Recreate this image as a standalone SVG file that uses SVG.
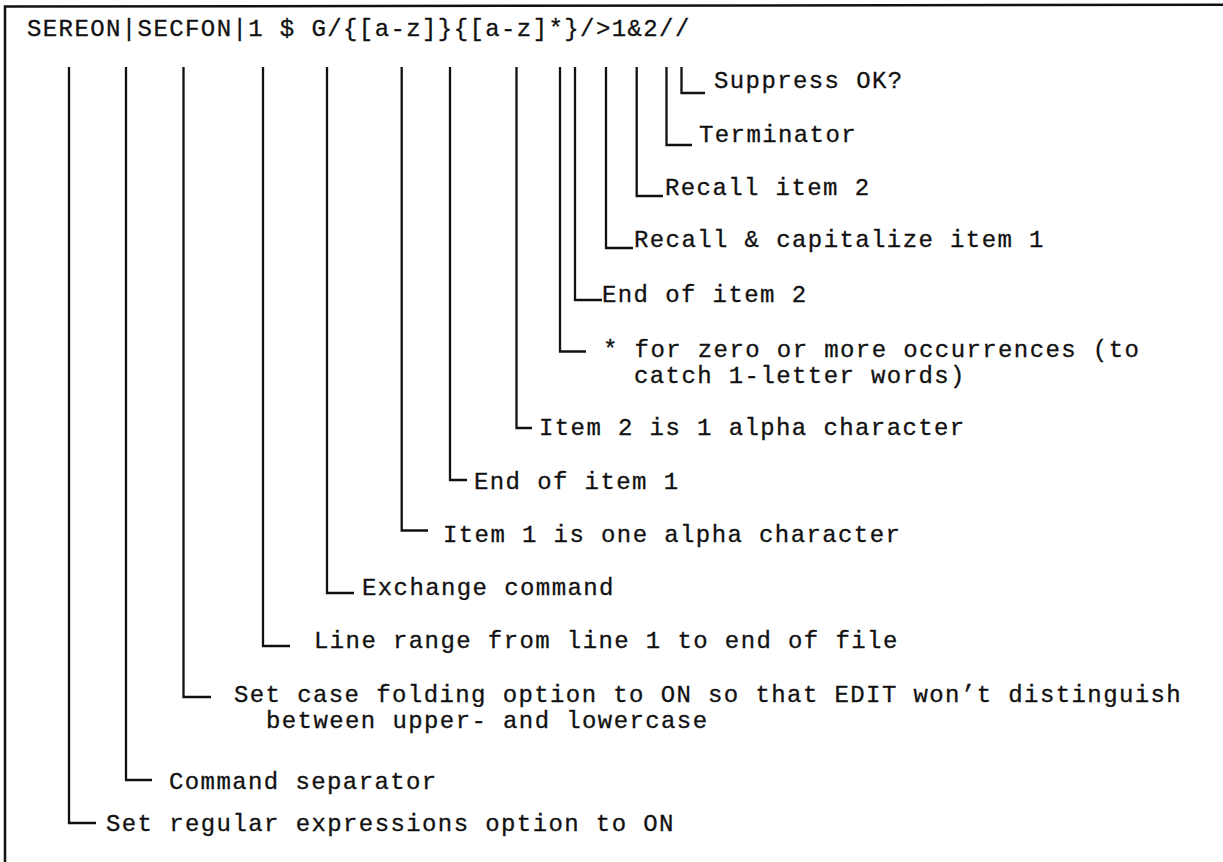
<svg xmlns="http://www.w3.org/2000/svg" width="1223" height="862" viewBox="0 0 1223 862">
<style>
.t{font-family:"Liberation Mono","Courier New",monospace;font-size:24px;letter-spacing:1.4px;fill:#111;stroke:#111;stroke-width:0.3}
.c{fill:none;stroke:#111;stroke-width:2.3;stroke-linejoin:miter;stroke-linecap:butt}
.b{fill:none;stroke:#111;stroke-width:2.5}
</style>
<rect width="1223" height="862" fill="#fff"/>
<g id="frame">
<path class="b" d="M5 862V6.5L1223 4.8"/>
</g>
<g id="command">
<text class="t" x="27" y="36">SEREON|SECFON|1 $ G/{[a-z]}{[a-z]*}/&gt;1&amp;2//</text>
</g>
<g id="connectors">
<path class="c" d="M69 67V823H96"/>
<path class="c" d="M126 67V780H152"/>
<path class="c" d="M183.5 67V697H211"/>
<path class="c" d="M263 67V646H290"/>
<path class="c" d="M327 67V593H354"/>
<path class="c" d="M401.7 67V530.5H428"/>
<path class="c" d="M450 67V480H467"/>
<path class="c" d="M516.5 67V428H532"/>
<path class="c" d="M560 67V351.5H586"/>
<path class="c" d="M575 67V300H602"/>
<path class="c" d="M606 67V248H633"/>
<path class="c" d="M636.7 67V196H663"/>
<path class="c" d="M666.5 67V145H692"/>
<path class="c" d="M681.5 67V93H705"/>
</g>
<g id="suppress"><text class="t" x="714" y="88">Suppress OK?</text></g>
<g id="terminator"><text class="t" x="699" y="142">Terminator</text></g>
<g id="recall2"><text class="t" x="665" y="195">Recall item 2</text></g>
<g id="recall1"><text class="t" x="634" y="247">Recall &amp; capitalize item 1</text></g>
<g id="enditem2"><text class="t" x="602" y="302">End of item 2</text></g>
<g id="star"><text class="t" x="603" y="357">* for zero or more occurrences (to</text><text class="t" x="634" y="383">catch 1-letter words)</text></g>
<g id="item2"><text class="t" x="539" y="435">Item 2 is 1 alpha character</text></g>
<g id="enditem1"><text class="t" x="474" y="489">End of item 1</text></g>
<g id="item1"><text class="t" x="443" y="541.5">Item 1 is one alpha character</text></g>
<g id="exchange"><text class="t" x="362" y="595">Exchange command</text></g>
<g id="range"><text class="t" x="314" y="648">Line range from line 1 to end of file</text></g>
<g id="casefold"><text class="t" x="234" y="701.5">Set case folding option to ON so that EDIT won’t distinguish</text><text class="t" x="266" y="728">between upper- and lowercase</text></g>
<g id="separator"><text class="t" x="169" y="789">Command separator</text></g>
<g id="regex"><text class="t" x="106" y="831">Set regular expressions option to ON</text></g>
</svg>
